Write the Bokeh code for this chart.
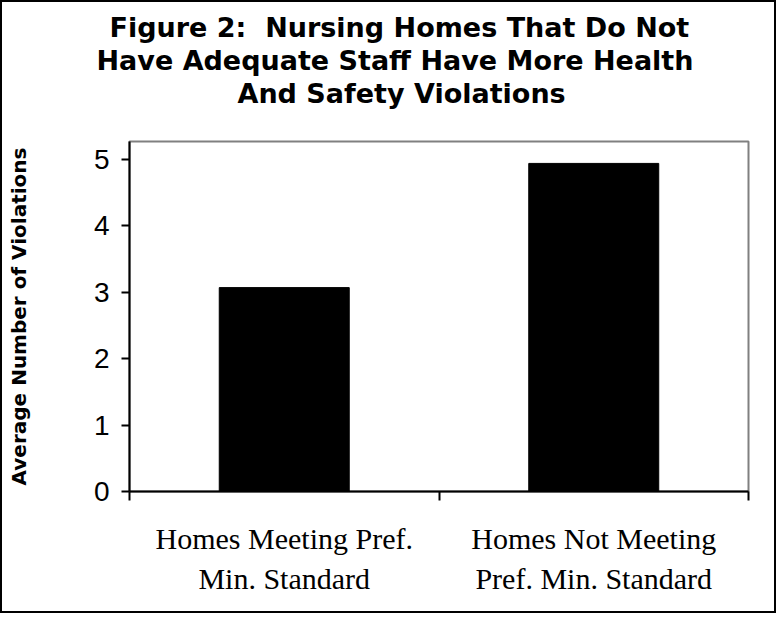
from bokeh.plotting import figure
from bokeh.models import (Range1d, FixedTicker, LinearAxis, Title,
                          ColumnDataSource)
from bokeh.embed import file_html
from bokeh.resources import INLINE

# ---- data ----
categories = ["Homes Meeting Pref.\nMin. Standard",
              "Homes Not Meeting\nPref. Min. Standard"]
violations = [3.07, 4.94]
y_ticks = [0, 1, 2, 3, 4, 5]
title_lines = ["Figure 2:\u00a0 Nursing Homes That Do Not",
               "Have Adequate Staff Have More Health",
               "And Safety Violations"]
y_label = "Average Number of Violations"

n = len(categories)
centers = [i + 0.5 for i in range(n)]
edges = list(range(n + 1))
src = ColumnDataSource(dict(x=centers, val=violations))

p = figure(width=776, height=613,
           x_range=Range1d(0, n),
           y_range=Range1d(0, 5.27),
           output_backend="svg", toolbar_location=None,
           x_axis_location=None, title=None,
           min_border_left=127, min_border_right=30,
           min_border_top=139, min_border_bottom=124,
           styles={"border": "2px solid black"})

p.background_fill_color = "white"
p.border_fill_color = "white"
p.outline_line_color = "#808080"
p.outline_line_width = 2
p.grid.visible = False

p.vbar(x="x", top="val", width=0.42, source=src,
       fill_color="black", line_color="black")

# y axis
ya = p.yaxis[0]
ya.ticker = FixedTicker(ticks=y_ticks)
ya.axis_line_color = "black"
ya.axis_line_width = 2
ya.major_tick_line_color = "black"
ya.major_tick_line_width = 2
ya.major_tick_in = 0
ya.major_tick_out = 8
ya.minor_tick_line_color = None
ya.major_label_text_font = "Liberation Sans"
ya.major_label_text_font_size = "28px"
ya.major_label_text_color = "black"
ya.major_label_standoff = 12
ya.axis_label = y_label
ya.axis_label_text_font = "DejaVu Sans"
ya.axis_label_text_font_style = "bold"
ya.axis_label_text_font_size = "20px"
ya.axis_label_text_color = "black"
ya.axis_label_standoff = 60

# x axis: category labels at centres, boundary ticks as minor ticks
xa = LinearAxis(ticker=FixedTicker(ticks=centers, minor_ticks=edges),
                major_label_overrides={c: lab for c, lab in zip(centers, categories)},
                axis_line_color="black", axis_line_width=2,
                major_tick_line_color=None, major_tick_in=0, major_tick_out=0,
                minor_tick_line_color="black", minor_tick_line_width=2,
                minor_tick_in=0, minor_tick_out=9,
                major_label_text_font="Liberation Serif",
                major_label_text_font_size="30px",
                major_label_text_color="black",
                major_label_text_line_height=1.24,
                major_label_standoff=21)
p.add_layout(xa, "below")

# title lines (nearest the plot first)
title_offsets = [108, -33, -20]
title_pads = [dict(left=0, right=0, top=0, bottom=33), 0, 0]
title_font = dict(text_font="DejaVu Sans", text_font_style="bold",
                  text_font_size="27px", text_color="black",
                  align="left", vertical_align="bottom", standoff=0)
for line, off, pad in zip(reversed(title_lines), title_offsets, title_pads):
    p.add_layout(Title(text=line, offset=off, padding=pad, **title_font), "above")

open("out.html", "w").write(file_html(p, INLINE))
